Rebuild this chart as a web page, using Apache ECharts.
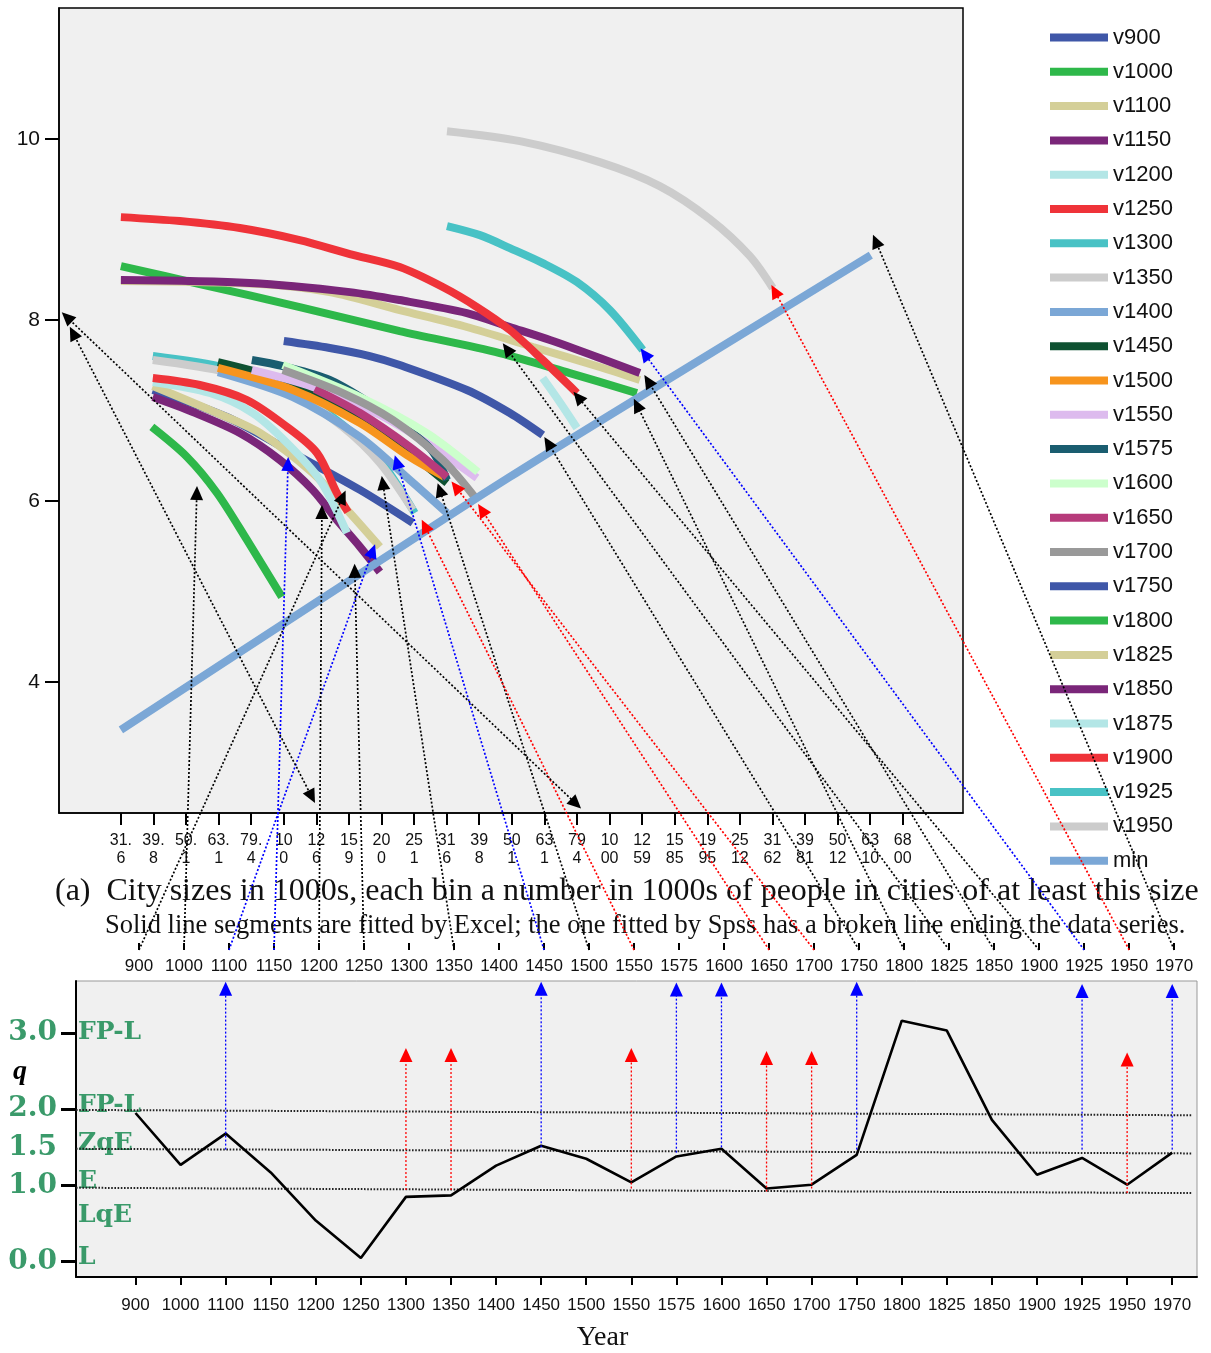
<!DOCTYPE html>
<html><head><meta charset="utf-8">
<script src="https://cdn.jsdelivr.net/npm/echarts@6/dist/echarts.min.js"></script>
<style>html,body{margin:0;padding:0;background:#fff;}#c{width:1211px;height:1353px;}</style>
</head><body><div id="c"></div>
<script>
// ---------- top panel: bins (log10 of city size) and tick labels ----------
const binLogs = [1.5,1.6,1.7,1.8,1.9,2.0,2.1,2.2,2.3,2.4,2.5,2.6,2.7,2.8,2.9,3.0,3.1,3.2,3.3,3.4,3.5,3.6,3.7,3.8,3.9];
const binLabels = ['31.6','39.8','50.1','63.1','79.4','100','126','159','200','251','316','398','501','631','794','1000','1259','1585','1995','2512','3162','3981','5012','6310','6800'];
const yTicksTop = [4,6,8,10];

// ---------- top panel series [log size, log count] ----------
const v900  = [[1.598,7.227],[1.825,6.928],[2.028,6.530],[2.234,6.122],[2.396,5.757]];
const v1000 = [[1.595,6.818],[1.703,6.486],[1.795,6.088],[1.887,5.569],[1.994,4.939]];
const v1100 = [[1.598,7.271],[1.773,7.006],[1.927,6.751],[2.089,6.309],[2.203,5.867],[2.295,5.492]];
const v1150 = [[1.598,7.149],[1.721,6.983],[1.865,6.751],[1.988,6.453],[2.089,6.122],[2.163,5.790],[2.234,5.492],[2.295,5.215]];
const v1200 = [[1.598,7.315],[1.773,7.193],[1.905,6.972],[2.010,6.641],[2.111,6.232],[2.194,5.646]];
const v1250 = [[1.598,7.359],[1.742,7.282],[1.887,7.116],[2.010,6.818],[2.102,6.530],[2.163,6.088],[2.197,5.878]];
const v1300 = [[1.598,7.602],[1.825,7.470],[2.028,7.227],[2.181,6.840],[2.295,6.453],[2.402,5.867]];
const v1350 = [[1.598,7.558],[1.825,7.425],[2.028,7.193],[2.181,6.818],[2.295,6.420],[2.396,5.901]];
const v1400 = [[1.798,7.425],[2.028,7.149],[2.234,6.707],[2.387,6.232],[2.501,5.867]];
const v1450 = [[1.798,7.536],[2.028,7.304],[2.234,6.928],[2.387,6.530],[2.501,6.199]];
const v1500 = [[1.798,7.470],[2.028,7.227],[2.234,6.862],[2.387,6.486],[2.494,6.265]];
const v1550 = [[1.902,7.448],[2.089,7.260],[2.295,6.950],[2.448,6.619],[2.593,6.254]];
const v1575 = [[1.902,7.558],[1.994,7.492],[2.141,7.337],[2.295,7.006],[2.448,6.586],[2.501,6.232]];
const v1600 = [[1.997,7.503],[2.234,7.149],[2.439,6.751],[2.596,6.320]];
const v1650 = [[2.095,7.238],[2.234,6.972],[2.387,6.597],[2.501,6.265]];
const v1700 = [[1.997,7.448],[2.181,7.193],[2.335,6.895],[2.488,6.453],[2.593,6.011]];
const v1750 = [[2.000,7.768],[2.141,7.691],[2.264,7.602],[2.356,7.503],[2.562,7.227],[2.694,6.972],[2.795,6.729]];
const v1800 = [[1.500,8.597],[1.742,8.398],[2.049,8.144],[2.356,7.878],[2.663,7.635],[2.878,7.414],[3.084,7.193]];
const v1825 = [[1.500,8.431],[1.927,8.398],[2.141,8.309],[2.356,8.110],[2.562,7.923],[2.765,7.702],[2.970,7.481],[3.093,7.337]];
const v1850 = [[1.500,8.442],[1.896,8.409],[2.203,8.309],[2.356,8.221],[2.562,8.077],[2.694,7.923],[2.817,7.779],[2.970,7.580],[3.093,7.414]];
const v1875 = [[2.795,7.359],[2.847,7.094],[2.900,6.807]];
const v1900 = [[1.500,9.138],[1.681,9.094],[1.865,9.017],[2.049,8.884],[2.203,8.729],[2.356,8.586],[2.488,8.365],[2.593,8.144],[2.694,7.890],[2.795,7.558],[2.900,7.193]];
const v1925 = [[2.501,9.039],[2.602,8.939],[2.694,8.796],[2.795,8.630],[2.900,8.420],[3.001,8.110],[3.102,7.669]];
const v1950 = [[2.501,10.088],[2.725,9.978],[2.970,9.746],[3.154,9.481],[3.308,9.116],[3.431,8.707],[3.501,8.354]];
const minLine = [[1.500,3.470],[2.111,4.906],[2.694,6.265],[3.277,7.558],[3.802,8.718]];

const seriesNames = ['v900','v1000','v1100','v1150','v1200','v1250','v1300','v1350','v1400','v1450','v1500','v1550','v1575','v1600','v1650','v1700','v1750','v1800','v1825','v1850','v1875','v1900','v1925','v1950','min'];
const seriesData  = [v900,v1000,v1100,v1150,v1200,v1250,v1300,v1350,v1400,v1450,v1500,v1550,v1575,v1600,v1650,v1700,v1750,v1800,v1825,v1850,v1875,v1900,v1925,v1950,minLine];

// ---------- bottom panel ----------
const years = ['900','1000','1100','1150','1200','1250','1300','1350','1400','1450','1500','1550','1575','1600','1650','1700','1750','1800','1825','1850','1900','1925','1950','1970'];
const qValues = [1.95,1.27,1.68,1.17,0.54,0.05,0.85,0.87,1.26,1.52,1.35,1.04,1.38,1.48,0.96,1.01,1.40,3.16,3.03,1.86,1.14,1.36,1.01,1.43];
const qTickVals = [0,1,2,3];
const qLabelVals = [0,1,1.5,2,3];
const regimeVals = [0.05,0.6,1.05,1.55,2.05,3];
const regimeNames = ['L','LqE','E','ZqE','FP-L','FP-L'];
const refLeft  = [1.99,1.48,0.97];   // dotted reference lines, value at left end
const refRight = [1.92,1.42,0.90];   // value at right end

// vertical arrows in the q panel
const blueArrowYears = ['1100','1450','1575','1600','1750','1925','1970'];
const blueArrowFrom  = [1.47,1.50,1.43,1.50,1.47,1.47,1.47];
const blueArrowTo    = [3.58,3.58,3.57,3.57,3.58,3.55,3.55];
const redArrowYears  = ['1300','1350','1550','1650','1700','1950'];
const redArrowFrom   = [0.94,0.94,0.96,0.92,0.96,0.90];
const redArrowTo     = [2.71,2.71,2.71,2.67,2.67,2.65];

// arrows from the year row up into the top panel: year, kind, target [log size, log count]
const crossYears = ['900','1000','1100','1150','1200','1250','1350','1450','1500','1550','1650','1700','1750','1800','1825','1850','1900','1925','1950','1970'];
const crossKinds = ['k','k','b','b','k','k','k','b','k','r','r','r','k','k','k','k','k','b','r','k'];
const crossTips  = [[2.181,6.044],[1.733,6.088],[2.273,5.448],[2.013,6.409],[2.117,5.878],[2.218,5.227],[2.304,6.199],[2.347,6.431],[2.479,6.122],[2.433,5.724],[2.608,5.901],[2.528,6.155],[2.811,6.641],[3.084,7.061],[2.685,7.680],[3.118,7.326],[2.903,7.149],[3.108,7.624],[3.507,8.320],[3.817,8.873]];
// two double-headed arrows inside the top panel
const doubleArrows = [[[1.334,8.033],[2.897,2.652]],[[1.353,7.856],[2.086,2.729]]];

// ---------- styles ----------
const colors = ['#3F57A8','#2EB84A','#D4CF98','#7A2679','#B3E6E6','#EF3339','#48C2C5','#CCCCCC','#7BA7D6','#0E5131','#F7941D','#DDBBEE','#1A5D70','#CCFFCC','#B73B7B','#999999','#3F57A8','#2EB84A','#D4CF98','#7A2679','#B3E6E6','#EF3339','#48C2C5','#CCCCCC','#7BA7D6'];
const kindColor = {k:'#000000', b:'#0000FF', r:'#FF0000'};
const SANS = '"Liberation Sans", Arial, sans-serif';
const SERIF = '"Liberation Serif", "Times New Roman", serif';
const GREEN = '#3A9A6A';

function binFmt(v){
  let i = 0, best = 1e9;
  binLogs.forEach((b,k)=>{ const d = Math.abs(b-v); if(d<best){best=d;i=k;} });
  const s = binLabels[i];
  const cut = s.charAt(2)==='.' ? 3 : 2;
  return s.slice(0,cut)+'\n'+s.slice(cut);
}
const yearIdx = years.map((y,i)=>i);

const chart = echarts.init(document.getElementById('c'));

const series = seriesNames.map((n,i)=>({
  name:n, type:'line', xAxisIndex:0, yAxisIndex:0, data:seriesData[i],
  showSymbol:false, symbol:'none', smooth:0.3,
  lineStyle:{width:8, color:colors[i], cap:'butt'}, itemStyle:{color:colors[i]},
  z: 2, silent:true
}));
refLeft.forEach((v,i)=>{
  series.push({type:'line', xAxisIndex:1, yAxisIndex:1, data:[[-1.32, v],[23.44, refRight[i]]],
    symbol:'none', silent:true, lineStyle:{color:'#222', width:2, type:[1.6,1.6]}, z:3});
});
series.push({name:'q', type:'line', xAxisIndex:1, yAxisIndex:1, data:qValues.map((v,i)=>[i,v]),
  symbol:'none', silent:true, lineStyle:{color:'#000', width:2.6}, z:5});

const option = {
  animation:false,
  backgroundColor:'#ffffff',
  title:[
    {text:'(a)  City sizes in 1000s, each bin a number in 1000s of people in cities of at least this size',
     left:55, top:876, padding:0, textStyle:{fontFamily:SERIF, fontSize:32, fontWeight:'normal', color:'#111'}},
    {text:'Solid line segments are fitted by Excel; the one fitted by Spss has a broken line ending the data series.',
     left:105, top:913, padding:0, textStyle:{fontFamily:SERIF, fontSize:26.5, fontWeight:'normal', color:'#111'}}
  ],
  legend:{orient:'vertical', left:1050, top:26, padding:0, itemWidth:58, itemHeight:8, itemGap:11.3, icon:'rect',
    data:seriesNames, selectedMode:false,
    textStyle:{fontFamily:SANS, fontSize:22, color:'#111', lineHeight:23}},
  grid:[
    {left:59, top:8, width:904, height:805, show:true, backgroundColor:'#F0F0F0', borderColor:'#000', borderWidth:1.5, outerBoundsMode:'none'},
    {left:76, top:981, width:1121, height:296, show:true, backgroundColor:'#F0F0F0', borderColor:'#999', borderWidth:1, outerBoundsMode:'none'},
    {left:80, top:938, width:1119, height:12, show:false, outerBoundsMode:'none'}
  ],
  xAxis:[
    {gridIndex:0, type:'value', min:1.31, max:4.085,
     axisLine:{show:true, onZero:false, lineStyle:{color:'#000', width:1.5}},
     axisTick:{show:true, customValues:binLogs, length:12, lineStyle:{color:'#000', width:2}},
     axisLabel:{customValues:binLogs, formatter:binFmt, fontFamily:SANS, fontSize:16, lineHeight:18, color:'#111', margin:19},
     splitLine:{show:false}},
    {gridIndex:1, type:'value', min:-1.32, max:23.55,
     axisLine:{show:true, onZero:false, lineStyle:{color:'#000', width:2}},
     axisTick:{show:true, customValues:yearIdx, length:8, lineStyle:{color:'#000', width:2}},
     axisLabel:{customValues:yearIdx, formatter:v=>years[Math.round(v)], fontFamily:SANS, fontSize:17, color:'#111', margin:20},
     splitLine:{show:false},
     name:'Year', nameLocation:'middle', nameGap:47,
     nameTextStyle:{fontFamily:SERIF, fontSize:28, color:'#111', padding:[0,68,0,0]}},
    {gridIndex:2, type:'value', min:-1.31, max:23.55,
     axisLine:{show:false},
     axisTick:{show:true, inside:true, customValues:yearIdx, length:7, lineStyle:{color:'#000', width:2}},
     axisLabel:{customValues:yearIdx, formatter:v=>years[Math.round(v)], fontFamily:SANS, fontSize:17, color:'#111', margin:8},
     splitLine:{show:false}}
  ],
  yAxis:[
    {gridIndex:0, type:'value', min:2.55, max:11.45,
     axisLine:{show:true, onZero:false, lineStyle:{color:'#000', width:1.5}},
     axisTick:{show:true, customValues:yTicksTop, length:14, lineStyle:{color:'#000', width:2}},
     axisLabel:{customValues:yTicksTop, fontFamily:SANS, fontSize:21, color:'#111', margin:19},
     splitLine:{show:false}},
    {gridIndex:1, type:'value', min:-0.2, max:3.68,
     axisLine:{show:true, onZero:false, lineStyle:{color:'#000', width:2}},
     axisTick:{show:true, customValues:qTickVals, length:15, lineStyle:{color:'#000', width:3}},
     axisLabel:{customValues:qLabelVals, formatter:v=>v.toFixed(1), fontFamily:'"DejaVu Serif", serif', fontWeight:'bold', fontSize:28, color:GREEN, margin:19},
     splitLine:{show:false}},
    {gridIndex:1, type:'value', min:-0.2, max:3.68, position:'left',
     axisLine:{show:false}, axisTick:{show:false}, splitLine:{show:false},
     axisLabel:{inside:true, customValues:regimeVals, formatter:v=>{let i=0,b=1e9;regimeVals.forEach((r,k)=>{if(Math.abs(r-v)<b){b=Math.abs(r-v);i=k;}});return regimeNames[i];},
       fontFamily:'"DejaVu Serif", serif', fontWeight:'bold', fontSize:25, color:GREEN, margin:2}},
    {gridIndex:2, type:'value', min:0, max:1, show:false}
  ],
  series:series
};
chart.setOption(option);

// ---------- arrows drawn from converted data positions ----------
const els = [];
function tri(cx, cy, ux, uy, col){
  const L = 14, W = 13;
  const tx = cx + ux*L/2, ty = cy + uy*L/2;
  const bx = cx - ux*L/2, by = cy - uy*L/2;
  const nx = -uy, ny = ux;
  els.push({type:'polygon', z:101, silent:true,
    shape:{points:[[tx,ty],[bx+nx*W/2, by+ny*W/2],[bx-nx*W/2, by-ny*W/2]]}, style:{fill:col}});
}
function arrow(p0, p1, col, lw, both){
  const dx = p1[0]-p0[0], dy = p1[1]-p0[1];
  const len = Math.sqrt(dx*dx+dy*dy); const ux = dx/len, uy = dy/len;
  els.push({type:'line', z:100, silent:true, shape:{x1:p0[0], y1:p0[1], x2:p1[0], y2:p1[1]},
    style:{stroke:col, lineWidth:lw, lineDash:[2,2]}});
  tri(p1[0], p1[1], ux, uy, col);
  if(both) tri(p0[0], p0[1], -ux, -uy, col);
}
crossYears.forEach((y,i)=>{
  const idx = years.indexOf(y);
  const p0 = chart.convertToPixel({gridIndex:2}, [idx, 0]);
  const p1 = chart.convertToPixel({gridIndex:0}, crossTips[i]);
  arrow(p0, p1, kindColor[crossKinds[i]], 1.7, false);
});
doubleArrows.forEach(d=>{
  const p0 = chart.convertToPixel({gridIndex:0}, d[0]);
  const p1 = chart.convertToPixel({gridIndex:0}, d[1]);
  arrow(p0, p1, '#000', 1.7, true);
});
blueArrowYears.forEach((y,i)=>{
  const idx = years.indexOf(y);
  arrow(chart.convertToPixel({gridIndex:1}, [idx, blueArrowFrom[i]]), chart.convertToPixel({gridIndex:1}, [idx, blueArrowTo[i]]), '#0000FF', 1.3, false);
});
redArrowYears.forEach((y,i)=>{
  const idx = years.indexOf(y);
  arrow(chart.convertToPixel({gridIndex:1}, [idx, redArrowFrom[i]]), chart.convertToPixel({gridIndex:1}, [idx, redArrowTo[i]]), '#FF0000', 1.3, false);
});
els.push({type:'text', z:100, silent:true, x:13, y:1058, style:{text:'q', font:'italic bold 28px "Liberation Serif", serif', fill:'#000'}});
chart.setOption({graphic:{elements:els}});
</script></body></html>
